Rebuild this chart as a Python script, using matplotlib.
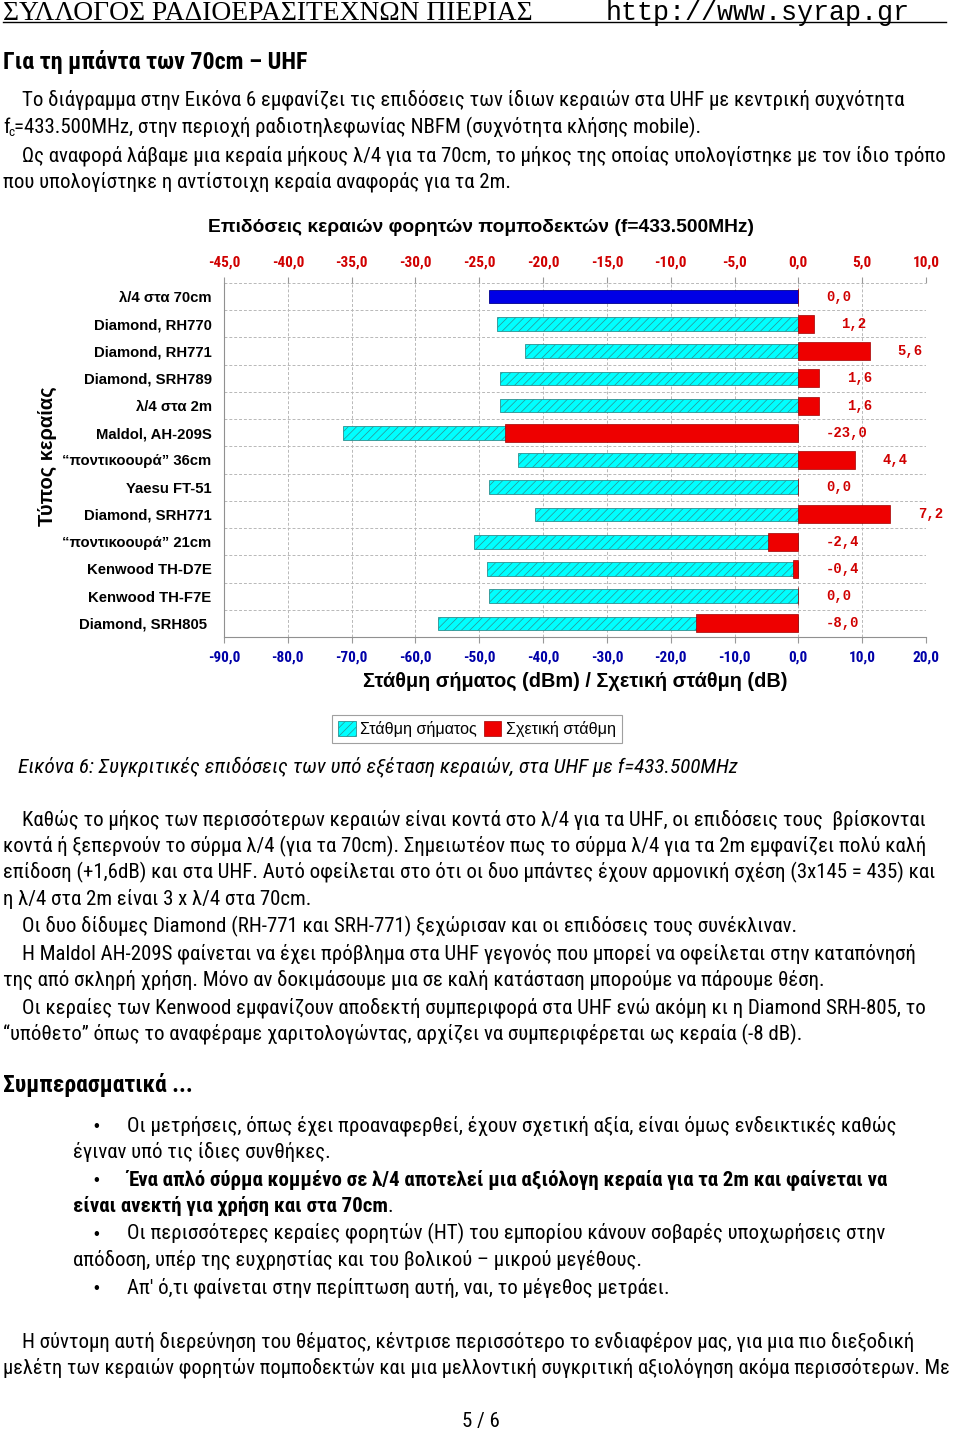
import matplotlib
matplotlib.use("Agg")
import matplotlib.pyplot as plt
from matplotlib.patches import Patch
from matplotlib.lines import Line2D

W, H = 960, 1431

# ---- chart data ----
antennas = ["λ/4 στα 70cm", "Diamond, RH770", "Diamond, RH771", "Diamond, SRH789", "λ/4 στα 2m",
            "Maldol, AH-209S", "“ποντικοουρά” 36cm", "Yaesu FT-51", "Diamond, SRH771",
            "“ποντικοουρά” 21cm", "Kenwood TH-D7E", "Kenwood TH-F7E", "Diamond, SRH805 "]
signal_dbm = [-48.4, -47.2, -42.8, -46.8, -46.8, -71.4, -44.0, -48.4, -41.2, -50.8, -48.8, -48.4, -56.4]
relative_db = [0.0, 1.2, 5.6, 1.6, 1.6, -23.0, 4.4, 0.0, 7.2, -2.4, -0.4, 0.0, -8.0]
bottom_ticks = [-90, -80, -70, -60, -50, -40, -30, -20, -10, 0, 10, 20]
top_ticks = [-45, -40, -35, -30, -25, -20, -15, -10, -5, 0, 5, 10]
legend_labels = ["Στάθμη σήματος", "Σχετική στάθμη"]

BODY = "Roboto Condensed"
FS = 15.0
CYAN, CYAN_EDGE = "#00FFFF", "#2E8F8F"
RED, RED_EDGE = "#EE0000", "#A00000"
BLUE = "#0000E6"

fig = plt.figure(figsize=(W / 100, H / 100), dpi=100)
plt.rcParams["hatch.linewidth"] = 0.5


def T(x, y, s, size=FS, family=BODY, va="baseline", **kw):
    return fig.text(x / W, 1 - y / H, s, fontsize=size, family=family, va=va, **kw)


# ---- page header ----
T(3, 19.5, "ΣΥΛΛΟΓΟΣ ΡΑΔΙΟΕΡΑΣΙΤΕΧΝΩΝ ΠΙΕΡΙΑΣ", size=19.8, family="Liberation Serif")
T(606, 19.5, "http://www.syrap.gr", size=19.3, family="Liberation Mono")
fig.add_artist(Line2D([3 / W, 946 / W], [1 - 21.5 / H, 1 - 21.5 / H], color="black", lw=1.0))

T(3, 69, "Για τη μπάντα των 70cm – UHF", size=17.3, weight="bold")
T(22, 106, "Το διάγραμμα στην Εικόνα 6 εμφανίζει τις επιδόσεις των ίδιων κεραιών στα UHF με κεντρική συχνότητα")
T(3, 133, "f")
T(8.5, 136, "c", size=9.5)
T(14, 133, "=433.500MHz, στην περιοχή ραδιοτηλεφωνίας NBFM (συχνότητα κλήσης mobile).")
T(22, 161, "Ως αναφορά λάβαμε μια κεραία μήκους λ/4 για τα 70cm, το μήκος της οποίας υπολογίστηκε με τον ίδιο τρόπο")
T(3, 187, "που υπολογίστηκε η αντίστοιχη κεραία αναφοράς για τα 2m.")

# ---- chart ----
ax = fig.add_axes([224 / W, 1 - 637 / H, 702 / W, 354 / H])
ax2 = ax.twiny()
ypos = list(range(len(antennas)))

sig = ax.barh(ypos, signal_dbm, height=0.5, color=CYAN, edgecolor=CYAN_EDGE, linewidth=0.6, zorder=2)
for i, p in enumerate(sig.patches):
    if i == 0:
        p.set_facecolor(BLUE); p.set_edgecolor("#00008B"); p.set_height(0.48); p.set_y(ypos[0] - 0.24)
    else:
        p.set_hatch("////")
rel = ax2.barh(ypos, relative_db, height=0.66, color=RED, edgecolor=RED_EDGE, linewidth=0.5, zorder=3)

for y, v in zip(ypos, relative_db):
    ax2.annotate(f"{v:.1f}".replace(".", ","), xy=(max(v, 0), y), xytext=(20, 0), textcoords="offset points",
                 ha="left", va="center", color="#D00000", fontsize=10, family="Liberation Mono", weight="bold")

ax.set_xlim(bottom_ticks[0], bottom_ticks[-1])
ax2.set_xlim(top_ticks[0], top_ticks[-1])
ax.set_ylim(len(antennas) - 0.5, -0.5)

ax.set_xticks(bottom_ticks)
ax.set_xticklabels([f"{t:.1f}".replace(".", ",") for t in bottom_ticks], color="#0000A8",
                   fontsize=11, family=BODY, weight="bold")
ax2.set_xticks(top_ticks)
ax2.set_xticklabels([f"{t:.1f}".replace(".", ",") for t in top_ticks], color="#D00000",
                    fontsize=11, family=BODY, weight="bold")
ax.tick_params(axis="x", length=4, color="#999999", pad=6)
ax2.tick_params(axis="x", length=4, color="#999999", pad=6)

ax.set_yticks(ypos)
ax.set_yticklabels(antennas, fontsize=10.7, family="Liberation Sans", weight="bold")
ax.set_yticks([y + 0.5 for y in [-1] + ypos], minor=True)
ax.tick_params(axis="y", which="both", length=0, pad=9)

ax.set_axisbelow(True)
ax.grid(axis="x", which="major", color="#B8B8B8", ls=(0, (3, 2)), lw=0.7)
ax.grid(axis="y", which="minor", color="#B8B8B8", ls=(0, (3, 2)), lw=0.7)
for s in ("top", "right"):
    ax.spines[s].set_visible(False)
for s in ("left", "bottom"):
    ax.spines[s].set_color("#909090")
for s in ax2.spines.values():
    s.set_visible(False)

T(481, 228, "Επιδόσεις κεραιών φορητών πομποδεκτών (f=433.500MHz)", size=13.9, family="Liberation Sans",
  weight="bold", ha="center", va="center")
T(575, 681, "Στάθμη σήματος (dBm) / Σχετική στάθμη (dB)", size=14.3, family="Liberation Sans",
  weight="bold", ha="center", va="center")
T(47, 456, "Τύπος κεραίας", size=14.5, family="Liberation Sans", weight="bold", rotation=90,
  ha="center", va="center")

handles = [Patch(facecolor=CYAN, edgecolor=CYAN_EDGE, hatch="////", lw=0.6),
           Patch(facecolor=RED, edgecolor=RED_EDGE, lw=0.5)]
leg = fig.legend(handles, legend_labels, loc="center", bbox_to_anchor=(477 / W, 1 - 729 / H), ncol=2,
                 fancybox=False, edgecolor="#A0A0A0", framealpha=1, borderpad=0.35, handlelength=1.1,
                 handleheight=1.1, handletextpad=0.3, columnspacing=0.4, prop={"family": "Liberation Sans", "size": 11.6})
leg.get_frame().set_linewidth(0.8)

T(18, 772, "Εικόνα 6: Συγκριτικές επιδόσεις των υπό εξέταση κεραιών, στα UHF με f=433.500MHz", size=15.3, style="italic")

# ---- body text ----
lines2 = [
    (22, 820, "Καθώς το μήκος των περισσότερων κεραιών είναι κοντά στο λ/4 για τα UHF, οι επιδόσεις τους  βρίσκονται"),
    (3, 846, "κοντά ή ξεπερνούν το σύρμα λ/4 (για τα 70cm). Σημειωτέον πως το σύρμα λ/4 για τα 2m εμφανίζει πολύ καλή"),
    (3, 872, "επίδοση (+1,6dB) και στα UHF. Αυτό οφείλεται στο ότι οι δυο μπάντες έχουν αρμονική σχέση (3x145 = 435) και"),
    (3, 899, "η λ/4 στα 2m είναι 3 x λ/4 στα 70cm."),
    (22, 926, "Οι δυο δίδυμες Diamond (RH-771 και SRH-771) ξεχώρισαν και οι επιδόσεις τους συνέκλιναν."),
    (22, 953, "Η Maldol AH-209S φαίνεται να έχει πρόβλημα στα UHF γεγονός που μπορεί να οφείλεται στην καταπόνησή"),
    (3, 980, "της από σκληρή χρήση. Μόνο αν δοκιμάσουμε μια σε καλή κατάσταση μπορούμε να πάρουμε θέση."),
    (22, 1007, "Οι κεραίες των Kenwood εμφανίζουν αποδεκτή συμπεριφορά στα UHF ενώ ακόμη κι η Diamond SRH-805, το"),
    (3, 1034, "“υπόθετο” όπως το αναφέραμε χαριτολογώντας, αρχίζει να συμπεριφέρεται ως κεραία (-8 dB)."),
]
for x, y, s in lines2:
    T(x, y + 6, s)

T(3, 1092, "Συμπερασματικά ...", size=17, weight="bold")
for y in (1125, 1179, 1233, 1287):
    T(93, y + 6, "•", family="Liberation Sans", size=12)
T(127, 1131, "Οι μετρήσεις, όπως έχει προαναφερθεί, έχουν σχετική αξία, είναι όμως ενδεικτικές καθώς")
T(73, 1158, "έγιναν υπό τις ίδιες συνθήκες.")
T(127, 1185, "Ένα απλό σύρμα κομμένο σε λ/4 αποτελεί μια αξιόλογη κεραία για τα 2m και φαίνεται να", weight="bold")
b = T(73, 1212, "είναι ανεκτή για χρήση και στα 70cm", weight="bold")
bb = b.get_window_extent(renderer=fig.canvas.get_renderer())
T(bb.x1, 1212, ".")
T(127, 1239, "Οι περισσότερες κεραίες φορητών (HT) του εμπορίου κάνουν σοβαρές υποχωρήσεις στην")
T(73, 1266, "απόδοση, υπέρ της ευχρηστίας και του βολικού – μικρού μεγέθους.")
T(127, 1293, "Απ' ό,τι φαίνεται στην περίπτωση αυτή, ναι, το μέγεθος μετράει.")

T(22, 1347, "Η σύντομη αυτή διερεύνηση του θέματος, κέντρισε περισσότερο το ενδιαφέρον μας, για μια πιο διεξοδική")
T(3, 1374, "μελέτη των κεραιών φορητών πομποδεκτών και μια μελλοντική συγκριτική αξιολόγηση ακόμα περισσότερων. Με",
  size=14.8)
T(481, 1421, "5 / 6", ha="center", va="center")

fig.savefig("out.png", dpi=100)
